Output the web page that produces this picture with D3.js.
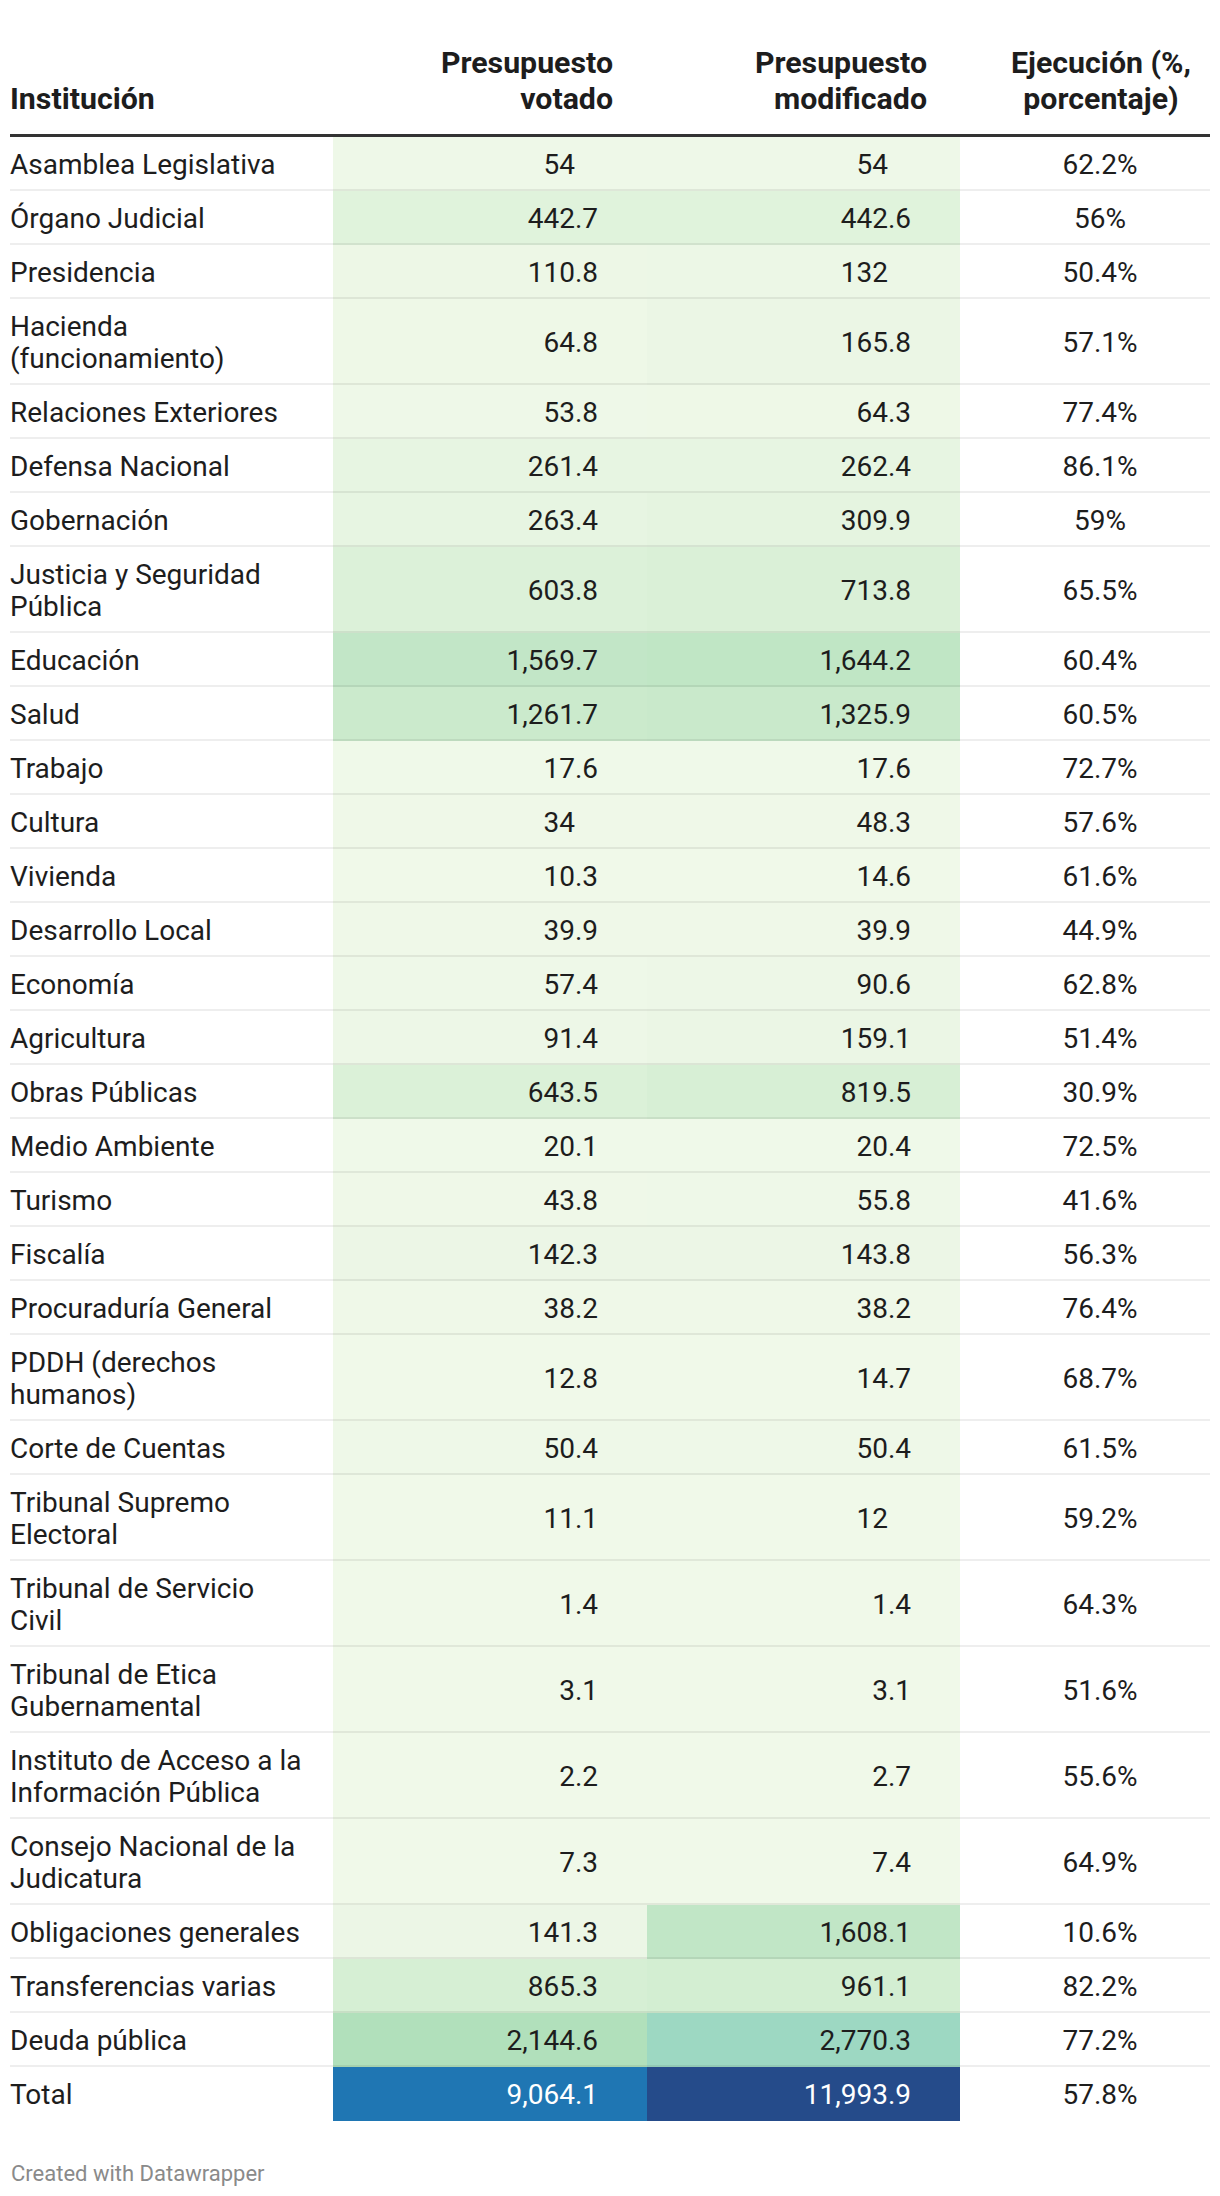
<!DOCTYPE html>
<html>
<head>
<meta charset="utf-8">
<script src="https://cdn.jsdelivr.net/npm/d3@7"></script>
<style>
  html, body { margin: 0; padding: 0; background: #fff; }
  svg { display: block; font-family: Roboto, "Noto Sans", sans-serif; }
</style>
</head>
<body>
<svg id="chart" width="1220" height="2196"></svg>
<script>
// ---- data ----
const columns = ["Institución", "Presupuesto\nvotado", "Presupuesto\nmodificado", "Ejecución (%,\nporcentaje)"];
const instituciones = [
  "Asamblea Legislativa", "Órgano Judicial", "Presidencia", "Hacienda\n(funcionamiento)",
  "Relaciones Exteriores", "Defensa Nacional", "Gobernación", "Justicia y Seguridad\nPública",
  "Educación", "Salud", "Trabajo", "Cultura", "Vivienda", "Desarrollo Local", "Economía",
  "Agricultura", "Obras Públicas", "Medio Ambiente", "Turismo", "Fiscalía",
  "Procuraduría General", "PDDH (derechos\nhumanos)", "Corte de Cuentas",
  "Tribunal Supremo\nElectoral", "Tribunal de Servicio\nCivil", "Tribunal de Etica\nGubernamental",
  "Instituto de Acceso a la\nInformación Pública", "Consejo Nacional de la\nJudicatura",
  "Obligaciones generales", "Transferencias varias", "Deuda pública", "Total"
];
const votado = [54, 442.7, 110.8, 64.8, 53.8, 261.4, 263.4, 603.8, 1569.7, 1261.7, 17.6, 34, 10.3, 39.9,
  57.4, 91.4, 643.5, 20.1, 43.8, 142.3, 38.2, 12.8, 50.4, 11.1, 1.4, 3.1, 2.2, 7.3, 141.3, 865.3, 2144.6, 9064.1];
const modificado = [54, 442.6, 132, 165.8, 64.3, 262.4, 309.9, 713.8, 1644.2, 1325.9, 17.6, 48.3, 14.6, 39.9,
  90.6, 159.1, 819.5, 20.4, 55.8, 143.8, 38.2, 14.7, 50.4, 12, 1.4, 3.1, 2.7, 7.4, 1608.1, 961.1, 2770.3, 11993.9];
const ejecucion = [62.2, 56, 50.4, 57.1, 77.4, 86.1, 59, 65.5, 60.4, 60.5, 72.7, 57.6, 61.6, 44.9, 62.8, 51.4,
  30.9, 72.5, 41.6, 56.3, 76.4, 68.7, 61.5, 59.2, 64.3, 51.6, 55.6, 64.9, 10.6, 82.2, 77.2, 57.8];
const footer = "Created with Datawrapper";

// ---- layout / style ----
const svg = d3.select("#chart");
const left = 10, right = 1210;
const colX = [10, 333, 647, 960, 1210];
const textColor = "#1d1d1d";
const bodySize = 28, headSize = 30.3;
const rowSingle = 54, rowDouble = 86, lineStep = 32;
const tableTop = 137;

const color = d3.scaleLinear()
  .domain([0, 165.8, 442.7, 865.3, 1261.7, 1608.1, 2144.6, 2770.3, 9064.1, 11993.9])
  .range(["#f0f9e9", "#ebf6e5", "#e0f3dc", "#d6efd4", "#cbeacc", "#c1e6c6", "#b1e0bb", "#9dd8c2", "#1f76b3", "#254b8a"])
  .interpolate(d3.interpolateRgb);

const fmt = d3.format(",");

svg.append("rect").attr("width", 1220).attr("height", 2196).attr("fill", "#fff");

// header
const head = svg.append("g").attr("font-weight", 700).attr("font-size", headSize).attr("fill", textColor);
const headAnchor = ["start", "end", "end", "middle"];
const headX = [left, 613, 927, 1101];
columns.forEach((c, i) => {
  const lines = c.split("\n");
  const t = head.append("text").attr("text-anchor", headAnchor[i]);
  lines.forEach((l, j) => {
    const y = 109 - (lines.length - 1 - j) * 36;
    t.append("tspan").attr("x", headX[i]).attr("y", y).text(l);
  });
});
svg.append("rect").attr("x", left).attr("y", 134).attr("width", right - left).attr("height", 3).attr("fill", "#333");

// row positions
const rows = instituciones.map((name, i) => ({
  name, lines: name.split("\n"), v: votado[i], m: modificado[i], e: ejecucion[i], i
}));
let yAcc = tableTop;
rows.forEach(r => { r.h = r.lines.length > 1 ? rowDouble : rowSingle; r.y = yAcc; yAcc += r.h; });

// measure ".0" width for decimal alignment
const meas = svg.append("text").attr("font-size", bodySize).text(".0");
const padW = meas.node().getComputedTextLength();
meas.remove();

const g = svg.append("g").attr("font-size", bodySize);

// colored cells
[["v", 1], ["m", 2]].forEach(([k, ci]) => {
  g.selectAll(null).data(rows).join("rect")
    .attr("x", colX[ci]).attr("y", d => d.y)
    .attr("width", colX[ci + 1] - colX[ci]).attr("height", d => d.h)
    .attr("fill", d => color(d[k]));
});

// separators
g.selectAll(null).data(rows.slice(0, -1)).join("rect")
  .attr("x", left).attr("y", d => d.y + d.h - 2)
  .attr("width", right - left).attr("height", 2)
  .attr("fill", "rgba(0,0,0,0.068)");

// names
rows.forEach(r => {
  const cy = r.y + r.h / 2;
  const t = g.append("text").attr("fill", textColor);
  r.lines.forEach((l, j) => {
    const y = cy + (j - (r.lines.length - 1) / 2) * lineStep + bodySize * 0.35;
    t.append("tspan").attr("x", left).attr("y", y).text(l);
  });
});

// numbers
const numX = { v: 598, m: 911 };
["v", "m"].forEach(k => {
  g.selectAll(null).data(rows).join("text")
    .attr("text-anchor", "end")
    .attr("x", d => numX[k] - (Number.isInteger(d[k]) ? padW : 0))
    .attr("y", d => d.y + d.h / 2 + bodySize * 0.35)
    .attr("fill", d => d.name === "Total" ? "#fff" : textColor)
    .text(d => fmt(d[k]));
});
g.selectAll(null).data(rows).join("text")
  .attr("text-anchor", "middle")
  .attr("x", 1100)
  .attr("y", d => d.y + d.h / 2 + bodySize * 0.35)
  .attr("fill", textColor)
  .text(d => d.e + "%");

// footer
svg.append("text").attr("x", left + 1).attr("y", 2181).attr("font-size", 22).attr("fill", "#8a8a8a").text(footer);
</script>
</body>
</html>
